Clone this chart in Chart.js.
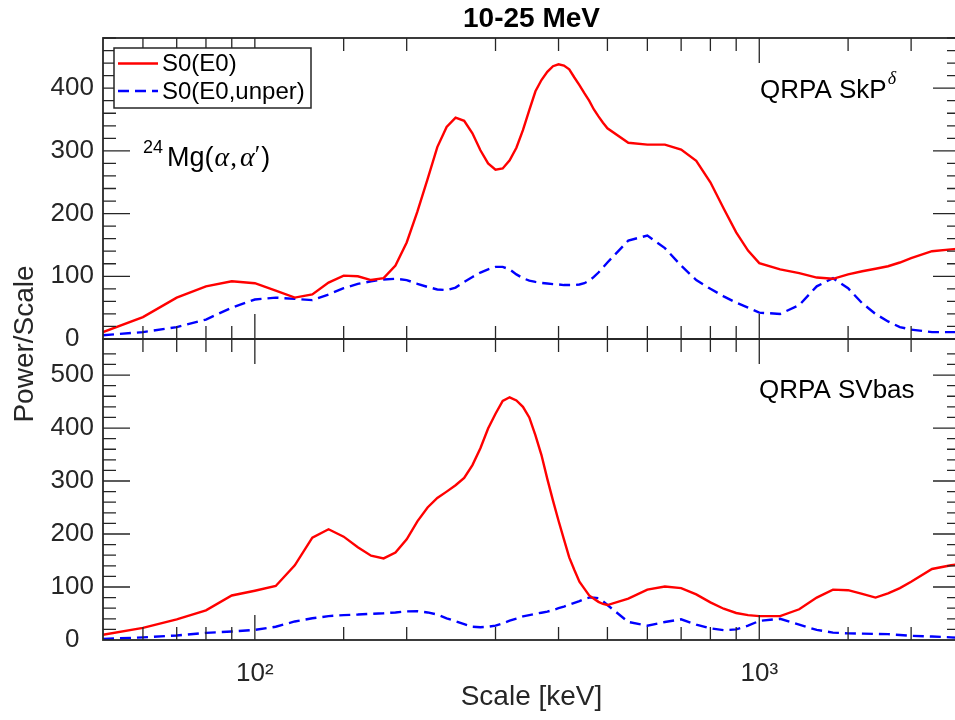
<!DOCTYPE html>
<html>
<head>
<meta charset="utf-8">
<script src="https://cdn.jsdelivr.net/npm/chart.js@4.4.0/dist/chart.umd.min.js"></script>
<style>
    html, body { margin: 0; padding: 0; overflow: hidden; background: #fff; }
    /* the plot frame runs a few px past the 955px window, like the cropped original */
    #wrap { position: relative; width: 963px; height: 720px; }
    canvas { display: block; }
</style>
</head>
<body>
<div id="wrap"><canvas id="chart" width="963" height="720"></canvas></div>
<script>
// Scale [keV]
const scaleKeV = [50, 60, 70, 80, 90, 100, 110, 120, 130, 140, 150, 160, 170, 180, 190, 200,
    210, 220, 230, 240, 250, 260, 270, 280, 290, 300, 310, 320, 330, 340, 350, 360, 370, 380,
    390, 400, 410, 420, 430, 440, 450, 460, 470, 480, 490, 500, 550, 600, 650, 700, 750, 800,
    850, 900, 950, 1000, 1100, 1200, 1300, 1400, 1500, 1600, 1700, 1800, 1900, 2000, 2200,
    2400, 2500];

// 上图: QRPA SkP^delta
const skpFull = [11, 35, 66, 84, 92, 89, 77, 66, 71, 90, 101, 100, 94, 97, 117, 154,
    203, 255, 306, 338, 353, 348, 328, 301, 280, 270, 272, 285, 305, 333, 365, 395, 413, 426,
    435, 438, 436, 430, 417, 405, 392, 380, 366, 355, 345, 336, 313, 310, 310, 302, 284, 250,
    208, 170, 141, 121, 111, 105, 98, 96, 103, 108, 112, 116, 122, 129, 140,
    143, 144];
const skpUnper = [6, 11, 19, 31, 50, 63, 66, 64, 62, 71, 81, 88, 92, 95, 96, 94,
    88, 83, 79, 78, 82, 91, 99, 106, 111, 115, 115, 111, 103, 97, 93, 91, 89.5, 88.5,
    87.5, 87, 86, 86, 86, 87, 89, 93, 99, 106, 114, 122, 157, 165, 145, 117, 94, 80,
    68, 58, 50, 42, 40, 54, 84, 97, 81, 57, 40, 28, 19, 15, 11,
    11, 11];

// 下图: QRPA SVbas
const svbasFull = [10, 23, 39, 56, 84, 93, 102, 141, 193, 209, 195, 175, 159, 154, 165, 190,
    224, 250, 268, 280, 292, 306, 330, 362, 399, 427, 451, 458, 452, 440, 420, 386, 349, 304,
    263, 225, 190, 156, 132, 110, 97, 84, 78, 72, 68, 66, 78, 95, 101, 98, 86, 71,
    59, 51, 47, 45, 45, 58, 80, 95, 94, 87, 80, 88, 98, 110, 134,
    141, 143];
const svbasUnper = [2, 5, 8.5, 13.5, 16, 19, 25, 35, 41, 45, 47, 48, 49.5, 50.5, 52, 54,
    54.5, 52, 48, 41, 35.5, 30, 25, 24, 25, 27, 31.5, 36.5, 40.5, 44.5, 47, 49.5, 51.5, 53.5,
    56.5, 60, 63, 66.5, 70, 73.5, 77.5, 80, 80, 79, 73, 66, 34, 27, 34, 39, 29, 22,
    18.5, 20, 27, 36, 40, 29, 19, 14, 12.5, 12, 11.5, 11, 9.5, 8, 6.5,
    5, 4];

// 刻度标签
const xDecades = [100, 1000];
const xDecadeLabels = ['10\u00B2', '10\u00B3'];
const yTopRange = [0, 480];
const yBotRange = [0, 568];

const FONT = "'Liberation Sans', Arial, Helvetica, sans-serif";
const SERIF = "'Liberation Serif', 'DejaVu Serif', serif";
const AXIS_COLOR = '#262626';
const RED = '#ff0000';
const BLUE = '#0000ff';
const DASH = [11, 6];

function isDecade(v) {
    const l = Math.log10(v);
    return Math.abs(l - Math.round(l)) < 1e-9;
}

function drawRuns(ctx, x, y, runs) {
    runs.forEach(r => {
        ctx.font = r.font;
        ctx.fillText(r.text, x, y + (r.dy || 0));
        x += ctx.measureText(r.text).width + (r.gap || 0);
    });
    return x;
}

// 坐标框、内向刻度、图例和注释
const panelDecor = {
    id: 'panelDecor',
    afterDatasetsDraw(chart) {
        const { ctx, chartArea: a, scales } = chart;
        const xs = scales.x;
        ctx.save();
        ctx.strokeStyle = AXIS_COLOR;

        [scales.yTop, scales.yBot].forEach(ys => {
            const top = ys.top, bottom = ys.bottom;
            ctx.lineWidth = 1.3;
            ctx.beginPath();
            ys.ticks.forEach(t => {
                if (t.value % 20 !== 0 || t.value <= ys.min) return;
                const py = ys.getPixelForValue(t.value);
                const len = t.value % 100 === 0 ? 27 : 13;
                ctx.moveTo(a.left, py); ctx.lineTo(a.left + len, py);
                ctx.moveTo(a.right, py); ctx.lineTo(a.right - len, py);
            });
            xs.ticks.forEach(t => {
                if (t.value <= xs.min || t.value >= xs.max) return;
                const px = xs.getPixelForValue(t.value);
                const len = isDecade(t.value) ? 25 : 13;
                ctx.moveTo(px, top); ctx.lineTo(px, top + len);
                ctx.moveTo(px, bottom); ctx.lineTo(px, bottom - len);
            });
            ctx.stroke();
            ctx.lineWidth = 1.8;
            ctx.strokeRect(a.left, top, a.right - a.left, bottom - top);
        });

        // 图例
        const lx = 114, ly = 48, lw = 197, lh = 60;
        ctx.fillStyle = '#fff';
        ctx.fillRect(lx, ly, lw, lh);
        ctx.lineWidth = 1.5;
        ctx.strokeStyle = AXIS_COLOR;
        ctx.strokeRect(lx, ly, lw, lh);
        [0, 1].forEach(i => {
            const ds = chart.data.datasets[i];
            const cy = ly + 15.5 + i * 27.5;
            ctx.strokeStyle = ds.borderColor;
            ctx.lineWidth = ds.borderWidth;
            ctx.setLineDash(ds.borderDash || []);
            ctx.beginPath();
            ctx.moveTo(lx + 4, cy);
            ctx.lineTo(lx + 44, cy);
            ctx.stroke();
            ctx.setLineDash([]);
            ctx.fillStyle = '#000';
            ctx.font = '24px ' + FONT;
            ctx.textAlign = 'left';
            ctx.textBaseline = 'middle';
            ctx.fillText(ds.label, lx + 48, cy + 1);
        });

        // 注释文字
        ctx.fillStyle = '#000';
        ctx.textAlign = 'left';
        ctx.textBaseline = 'alphabetic';
        drawRuns(ctx, 143, 166, [
            { text: '24', font: '18px ' + FONT, dy: -13, gap: 4 },
            { text: 'Mg(', font: '27px ' + FONT, gap: 1 },
            { text: '\u03B1', font: 'italic 28px ' + SERIF, gap: 1 },
            { text: ',', font: '27px ' + SERIF, gap: 3 },
            { text: '\u03B1', font: 'italic 28px ' + SERIF },
            { text: '\u2032', font: '25px ' + SERIF, dy: -3, gap: 1 },
            { text: ')', font: '27px ' + FONT }
        ]);
        drawRuns(ctx, 760, 98, [
            { text: 'QRPA SkP', font: '26px ' + FONT, gap: 1 },
            { text: '\u03B4', font: 'italic 18px ' + SERIF, dy: -14 }
        ]);
        drawRuns(ctx, 759, 398, [
            { text: 'QRPA SVbas', font: '26px ' + FONT }
        ]);

        // 标题
        ctx.textAlign = 'center';
        ctx.font = 'bold 28px ' + FONT;
        ctx.fillText('10-25 MeV', (a.left + a.right) / 2, 27);

        // 纵轴标题 (两图共用)
        ctx.fillStyle = AXIS_COLOR;
        ctx.font = '28px ' + FONT;
        ctx.translate(33, 344);
        ctx.rotate(-Math.PI / 2);
        ctx.fillText('Power/Scale', 0, 0);
        ctx.restore();
    }
};

function yScale(range, weight) {
    return {
        type: 'linear',
        position: 'left',
        stack: 'panels',
        stackWeight: 1,
        weight: weight,
        min: range[0],
        max: range[1],
        grid: { display: false, drawTicks: false },
        border: { display: false },
        ticks: {
            stepSize: 20,
            autoSkip: false,
            crossAlign: 'center',
            padding: 9,
            color: AXIS_COLOR,
            font: { size: 26, family: FONT },
            callback: v => (v % 100 === 0 ? v : '')
        },
        afterFit: s => { s.width = 103; }
    };
}

function lineSet(label, data, axis, color, dash) {
    return {
        label: label,
        data: data,
        yAxisID: axis,
        borderColor: color,
        borderWidth: 2.4,
        borderDash: dash,
        pointRadius: 0,
        tension: 0,
        fill: false
    };
}

new Chart(document.getElementById('chart'), {
    type: 'line',
    data: {
        labels: scaleKeV,
        datasets: [
            lineSet('S0(E0)', skpFull, 'yTop', RED, []),
            lineSet('S0(E0,unper)', skpUnper, 'yTop', BLUE, DASH),
            lineSet('S0(E0) SVbas', svbasFull, 'yBot', RED, []),
            lineSet('S0(E0,unper) SVbas', svbasUnper, 'yBot', BLUE, DASH)
        ]
    },
    options: {
        responsive: false,
        animation: false,
        devicePixelRatio: 1,
        layout: { padding: { top: 38, left: 0, right: 3, bottom: 0 } },
        plugins: {
            legend: { display: false },
            title: { display: false },
            tooltip: { enabled: false }
        },
        scales: {
            x: {
                type: 'logarithmic',
                min: 50,
                max: 2500,
                grid: { display: false, drawTicks: false },
                border: { display: false },
                ticks: {
                    autoSkip: false,
                    maxRotation: 0,
                    padding: 18,
                    color: AXIS_COLOR,
                    font: { size: 26, family: FONT },
                    callback: v => {
                        const i = xDecades.findIndex(d => Math.abs(d - v) < 1e-6);
                        return i >= 0 ? xDecadeLabels[i] : '';
                    }
                },
                title: {
                    display: true,
                    text: 'Scale [keV]',
                    color: AXIS_COLOR,
                    font: { size: 28, family: FONT },
                    padding: { top: 0, bottom: 6 }
                },
                afterFit: s => {
                    s.height = 80;
                    s.paddingLeft = 0;
                    s.paddingRight = 0;
                }
            },
            yTop: yScale(yTopRange, 2),
            yBot: yScale(yBotRange, 1)
        }
    },
    plugins: [panelDecor]
});
</script>
</body>
</html>
